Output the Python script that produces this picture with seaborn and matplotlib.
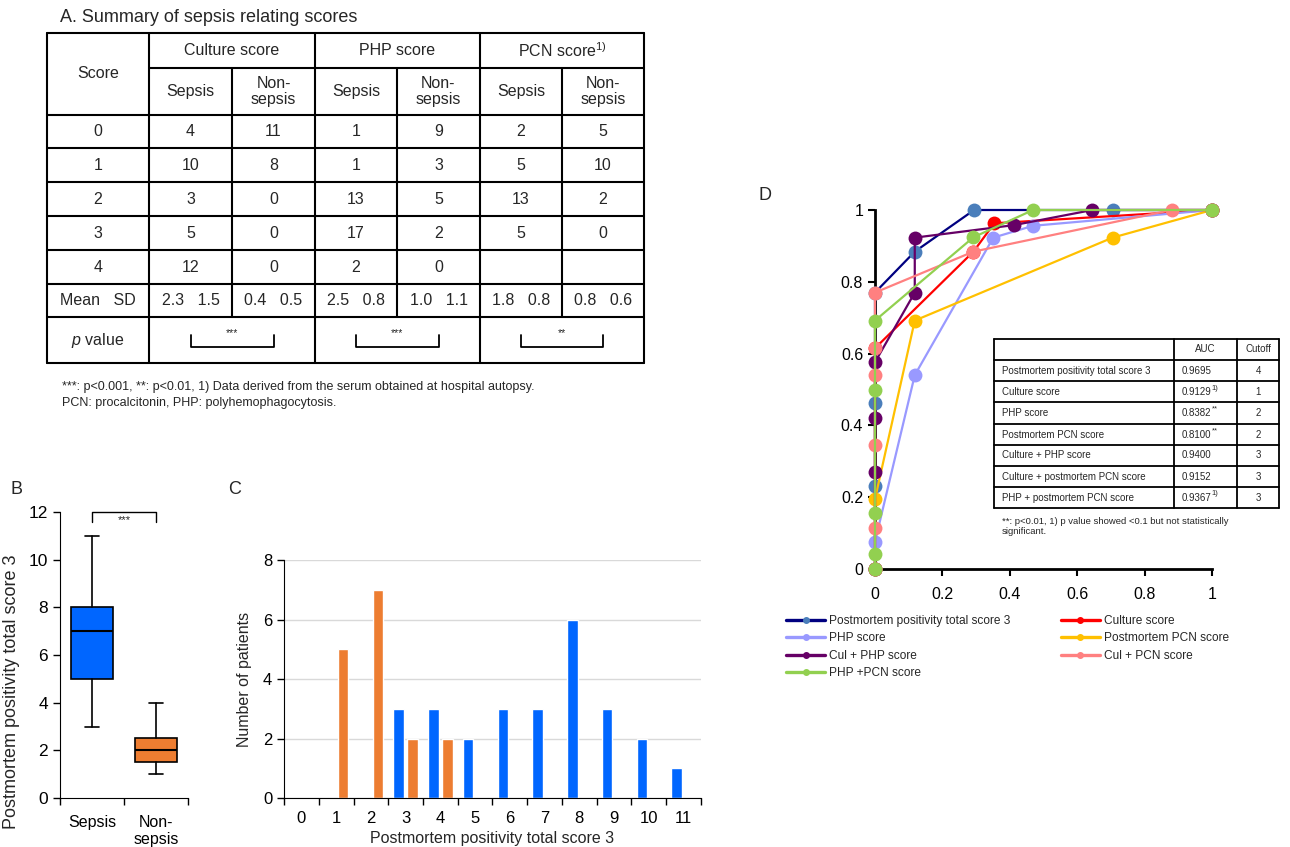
import numpy as np
import pandas as pd
import matplotlib.pyplot as plt
from matplotlib.lines import Line2D
import seaborn as sns

sns.set_style("ticks")
plt.rcParams['font.family'] = ['Liberation Sans', 'DejaVu Sans']
plt.rcParams['mathtext.fontset'] = 'custom'
plt.rcParams['mathtext.rm'] = 'Liberation Sans'
plt.rcParams['mathtext.it'] = 'Liberation Sans:italic'
plt.rcParams['xtick.color'] = 'black'
plt.rcParams['ytick.color'] = 'black'
plt.rcParams['axes.edgecolor'] = 'black'

W, H = 1290, 847

# ---------------- data ----------------
# A. summary table
scores = [0, 1, 2, 3, 4]
culture_sepsis = [4, 10, 3, 5, 12]
culture_non = [11, 8, 0, 0, 0]
php_sepsis = [1, 1, 13, 17, 2]
php_non = [9, 3, 5, 2, 0]
pcn_sepsis = [2, 5, 13, 5, None]
pcn_non = [5, 10, 2, 0, None]
mean_vals = [2.3, 0.4, 2.5, 1.0, 1.8, 0.8]
sd_vals = [1.5, 0.5, 0.8, 1.1, 0.8, 0.6]
score_groups = ['Culture score', 'PHP score', 'PCN score$^{1)}$']
p_marks = ['***', '***', '**']

# B. box plot stats
box_groups = ['Sepsis', 'Non-\nsepsis']
box_low = [3, 1]
box_q1 = [5, 1.5]
box_med = [7, 2]
box_q3 = [8, 2.5]
box_high = [11, 4]

# C. histogram
score_bins = list(range(12))
sepsis_counts = [0, 0, 0, 3, 3, 2, 3, 3, 6, 3, 2, 1]
non_counts = [0, 5, 7, 2, 2, 0, 0, 0, 0, 0, 0, 0]

# D. ROC curves (1 - specificity, sensitivity)
roc_names = ['Postmortem positivity total score 3', 'Culture score', 'PHP score',
             'Postmortem PCN score', 'Cul + PHP score', 'Cul + PCN score', 'PHP +PCN score']
roc_fpr = [
    [0, 0, 0, 0, 0.118, 0.294, 0.706, 1],
    [0, 0, 0.292, 0.354, 1],
    [0, 0, 0.118, 0.351, 0.469, 1],
    [0, 0, 0.118, 0.705, 1],
    [0, 0, 0, 0, 0.118, 0.118, 0.413, 0.645, 1],
    [0, 0, 0, 0, 0, 0, 0.292, 0.88, 1],
    [0, 0, 0, 0, 0, 0.292, 0.469, 1],
]
roc_tpr = [
    [0, 0.232, 0.462, 0.77, 0.884, 1, 1, 1],
    [0, 0.615, 0.884, 0.963, 1],
    [0, 0.076, 0.540, 0.923, 0.956, 1],
    [0, 0.195, 0.692, 0.923, 1],
    [0, 0.269, 0.421, 0.576, 0.77, 0.923, 0.958, 1, 1],
    [0, 0.115, 0.345, 0.540, 0.615, 0.77, 0.884, 1, 1],
    [0, 0.041, 0.155, 0.499, 0.692, 0.924, 1, 1],
]
line_colors = ['#000080', '#FF0000', '#9999FF', '#FFC000', '#660066', '#FF8080', '#92D050']
marker_colors = ['#4A7EBB', '#FF0000', '#9999FF', '#FFC000', '#660066', '#FF8080', '#92D050']

auc_labels = ['Postmortem positivity total score 3', 'Culture score', 'PHP score',
              'Postmortem PCN score', 'Culture + PHP score', 'Culture + postmortem PCN score',
              'PHP + postmortem PCN score']
auc_values = [0.9695, 0.9129, 0.8382, 0.8100, 0.9400, 0.9152, 0.9367]
auc_marks = ['', '1)', '**', '**', '', '', '1)']
cutoffs = [4, 1, 2, 2, 3, 3, 3]

blue = '#0066FF'
orange = '#ED7D31'


def rect(l, t, r, b):
    return [l / W, 1 - b / H, (r - l) / W, (b - t) / H]


fig = plt.figure(figsize=(W / 100, H / 100), dpi=100)

# ---------------- B ----------------
axB = fig.add_axes(rect(60, 512, 188, 798))
stats = []
for i in range(len(box_groups)):
    stats.append(dict(whislo=box_low[i], q1=box_q1[i], med=box_med[i],
                      q3=box_q3[i], whishi=box_high[i], fliers=[]))
bp = axB.bxp(stats, positions=[0, 1], widths=0.66, patch_artist=True, showfliers=False,
             capwidths=0.22,
             boxprops=dict(lw=1.2, edgecolor='k'), medianprops=dict(color='k', lw=1.5),
             whiskerprops=dict(color='k', lw=1.2), capprops=dict(color='k', lw=1.2))
for patch, c in zip(bp['boxes'], [blue, orange]):
    patch.set_facecolor(c)
axB.set_xlim(-0.5, 1.5)
axB.set_ylim(0, 12)
axB.set_yticks(range(0, 13, 2))
axB.set_xticks([0, 1])
axB.set_xticklabels(box_groups, fontsize=11.5, linespacing=1.2)
axB.set_xticks([-0.5, 0.5, 1.5], minor=True)
axB.tick_params(axis='x', which='major', length=0, pad=12)
axB.tick_params(axis='x', which='minor', length=5, width=1)
axB.tick_params(axis='y', labelsize=12.5, length=5, width=1)
axB.set_ylabel('Postmortem positivity total score 3', fontsize=13)
axB.yaxis.set_label_coords(-0.31, 0.37)
sns.despine(ax=axB)
axB.plot([0, 0, 1, 1], [11.6, 12, 12, 11.6], color='k', lw=1, clip_on=False)
axB.text(0.5, 11.65, '***', ha='center', va='center', fontsize=8)

# ---------------- C ----------------
axC = fig.add_axes(rect(284, 560, 701, 798))
df = pd.DataFrame({'score': score_bins * 2,
                   'group': ['Sepsis'] * len(score_bins) + ['Non-sepsis'] * len(score_bins),
                   'count': sepsis_counts + non_counts})
sns.barplot(data=df, x='score', y='count', hue='group', hue_order=['Sepsis', 'Non-sepsis'],
            palette=[blue, orange], width=0.8, gap=0.25, saturation=1, legend=False, ax=axC)
axC.set_xlim(-0.5, 11.5)
axC.set_ylim(0, 8)
axC.set_yticks([0, 2, 4, 6, 8])
axC.yaxis.grid(True, color='#d9d9d9', lw=1)
axC.set_axisbelow(True)
axC.set_xticks(range(12))
axC.set_xticklabels([str(s) for s in score_bins])
axC.set_xticks(np.arange(-0.5, 12, 1), minor=True)
axC.tick_params(axis='x', which='major', length=0, pad=9, labelsize=12)
axC.tick_params(axis='x', which='minor', length=5, width=1)
axC.tick_params(axis='y', labelsize=12, length=5, width=1)
axC.set_xlabel('Postmortem positivity total score 3', fontsize=11.5, labelpad=4)
axC.set_ylabel('Number of patients', fontsize=11.5, labelpad=8)
sns.despine(ax=axC)

# ---------------- D ----------------
axD = fig.add_axes(rect(875, 210, 1212, 569))
for i in range(len(roc_names)):
    sns.lineplot(x=roc_fpr[i], y=roc_tpr[i], estimator=None, sort=False, ax=axD,
                 color=line_colors[i], lw=1.6, marker='o', markersize=10,
                 markerfacecolor=marker_colors[i], markeredgecolor=marker_colors[i],
                 markeredgewidth=0, clip_on=False, zorder=3 + i)
axD.set_xlim(0, 1)
axD.set_ylim(0, 1)
ticks = [0, 0.2, 0.4, 0.6, 0.8, 1]
tick_labels = ['0', '0.2', '0.4', '0.6', '0.8', '1']
axD.set_xticks(ticks)
axD.set_xticklabels(tick_labels)
axD.set_yticks(ticks)
axD.set_yticklabels(tick_labels)
axD.tick_params(labelsize=11.5, length=5, width=1.5)
axD.tick_params(axis='x', pad=8)
for s in ['left', 'bottom']:
    axD.spines[s].set_linewidth(2)
sns.despine(ax=axD)

handles = [Line2D([], [], color=line_colors[i], lw=2.4, marker='o', ms=4,
                  mfc=marker_colors[i], mec=marker_colors[i]) for i in range(len(roc_names))]
order = [0, 2, 4, 6, 1, 3, 5]
fig.legend([handles[i] for i in order], [roc_names[i] for i in order], ncol=2,
           loc='upper left', bbox_to_anchor=(786 / W, 1 - 615 / H), frameon=False,
           fontsize=8.6, handlelength=3.3, handletextpad=0.3, labelspacing=0.45,
           columnspacing=4.2, borderpad=0, borderaxespad=0)

# ---------------- overlay: table A, table D, labels ----------------
ov = fig.add_axes([0, 0, 1, 1], zorder=20)
ov.set_xlim(0, W)
ov.set_ylim(H, 0)
ov.axis('off')
ov.patch.set_alpha(0)

ov.text(60, 17, 'A. Summary of sepsis relating scores', fontsize=13, ha='left', va='center')
cols = [47, 149, 232, 315, 397, 480, 562, 644]
rows = [33, 68, 115, 148, 182, 216, 250, 284, 317, 363]
lw_t = 1.5
for y in [rows[0]] + rows[2:]:
    ov.plot([cols[0], cols[-1]], [y, y], color='k', lw=lw_t)
ov.plot([cols[1], cols[-1]], [rows[1], rows[1]], color='k', lw=lw_t)
for x in [cols[0], cols[1], cols[3], cols[5], cols[7]]:
    ov.plot([x, x], [rows[0], rows[-1]], color='k', lw=lw_t)
for x in [cols[2], cols[4], cols[6]]:
    ov.plot([x, x], [rows[1], rows[-2]], color='k', lw=lw_t)

fs = 11.5
cc = [(cols[i] + cols[i + 1]) / 2 for i in range(len(cols) - 1)]
rc = [(rows[i] + rows[i + 1]) / 2 for i in range(len(rows) - 1)]
ov.text(cc[0], (rows[0] + rows[2]) / 2, 'Score', ha='center', va='center', fontsize=fs)
for g, name in enumerate(score_groups):
    ov.text((cols[2 * g + 1] + cols[2 * g + 3]) / 2, rc[0], name, ha='center', va='center', fontsize=fs)
    ov.text(cc[2 * g + 1], rc[1], 'Sepsis', ha='center', va='center', fontsize=fs)
    ov.text(cc[2 * g + 2], rc[1], 'Non-\nsepsis', ha='center', va='center', fontsize=fs, linespacing=1.1)
columns = [culture_sepsis, culture_non, php_sepsis, php_non, pcn_sepsis, pcn_non]
for r, s in enumerate(scores):
    ov.text(cc[0], rc[2 + r], str(s), ha='center', va='center', fontsize=fs)
    for c, vals in enumerate(columns):
        if vals[r] is not None:
            ov.text(cc[c + 1], rc[2 + r], str(vals[r]), ha='center', va='center', fontsize=fs)
ov.text(cc[0], rc[7], 'Mean   SD', ha='center', va='center', fontsize=fs)
for c in range(len(mean_vals)):
    ov.text(cc[c + 1], rc[7], f'{mean_vals[c]:.1f}   {sd_vals[c]:.1f}', ha='center', va='center', fontsize=fs)
ov.text(cc[0], rc[8], '$p$ value', ha='center', va='center', fontsize=fs)
for g, mark in enumerate(p_marks):
    xl, xr = cc[2 * g + 1], cc[2 * g + 2]
    ov.plot([xl, xl, xr, xr], [335, 347, 347, 335], color='k', lw=1.3)
    ov.text((xl + xr) / 2, 333, mark, ha='center', va='center', fontsize=7.5)
ov.text(62, 387, '***: p<0.001, **: p<0.01, 1) Data derived from the serum obtained at hospital autopsy.',
        fontsize=9, ha='left', va='center')
ov.text(62, 403, 'PCN: procalcitonin, PHP: polyhemophagocytosis.', fontsize=9, ha='left', va='center')

# panel letters
ov.text(17, 490, 'B', fontsize=13, ha='center', va='center')
ov.text(235, 489, 'C', fontsize=13, ha='center', va='center')
ov.text(765, 195, 'D', fontsize=13, ha='center', va='center')

# table D
d_cols = [994, 1174, 1237, 1279]
d_rows = [339, 360, 381.5, 402.5, 424, 445, 466, 487.5, 508]
ov.fill_between([d_cols[0], d_cols[-1]], d_rows[0], d_rows[-1], color='white', zorder=1)
for y in d_rows:
    ov.plot([d_cols[0], d_cols[-1]], [y, y], color='k', lw=1.3, zorder=2)
for x in d_cols:
    ov.plot([x, x], [d_rows[0], d_rows[-1]], color='k', lw=1.3, zorder=2)
dfs = 7
drc = [(d_rows[i] + d_rows[i + 1]) / 2 for i in range(len(d_rows) - 1)]
ov.text((d_cols[1] + d_cols[2]) / 2, drc[0], 'AUC', ha='center', va='center', fontsize=dfs)
ov.text((d_cols[2] + d_cols[3]) / 2, drc[0], 'Cutoff', ha='center', va='center', fontsize=dfs)
for i in range(len(auc_labels)):
    y = drc[i + 1]
    ov.text(1002, y, auc_labels[i], ha='left', va='center', fontsize=dfs)
    ov.text(1211, y, f'{auc_values[i]:.4f}', ha='right', va='center', fontsize=dfs)
    if auc_marks[i]:
        ov.text(1211.5, y - 4, auc_marks[i], ha='left', va='center', fontsize=5.5)
    ov.text((d_cols[2] + d_cols[3]) / 2, y, str(cutoffs[i]), ha='center', va='center', fontsize=dfs)
ov.text(1002, 521, '**: p<0.01, 1) p value showed <0.1 but not statistically', fontsize=6.8, ha='left', va='center')
ov.text(1002, 532, 'significant.', fontsize=6.8, ha='left', va='center')

fig.savefig('out.png', dpi=100)
